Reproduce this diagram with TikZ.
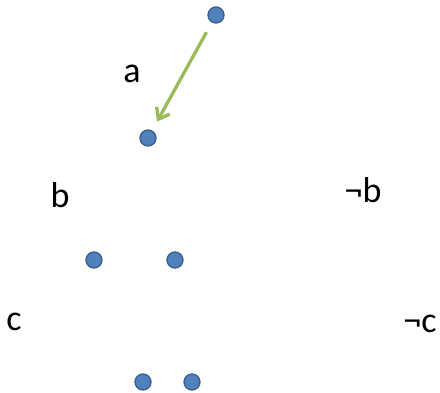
\documentclass[tikz,border=0pt]{standalone}
\usepackage{fontspec}
\setmainfont{Carlito}
\usepackage{tikz}
\usetikzlibrary{arrows.meta, positioning}
\usepackage{xcolor}
\definecolor{dotBlue}{HTML}{4F81BD}
\definecolor{dotEdge}{HTML}{385D8A}
\definecolor{arrowGreen}{HTML}{9BBB59}

\begin{document}
\begin{tikzpicture}[
    x=1pt, y=-1pt,
    dot/.style={circle, fill=dotBlue, draw=dotEdge, line width=1.3pt, minimum size=16pt, inner sep=0pt},
    lbl/.style={font=\fontsize{36}{40}\selectfont, inner sep=0pt},
    arrow/.style={-{Straight Barb[length=10pt, width=15pt]}, line width=3.3pt, color=arrowGreen, shorten <=11pt, shorten >=10pt}
]
    \useasboundingbox (0,0) rectangle (440,393);

    % Dots
    \node[dot] (top) at (216,15) {};
    \node[dot] (mid) at (148,138) {};
    \node[dot] (left) at (94,260) {};
    \node[dot] (right) at (175,260) {};
    \node[dot] (botL) at (143,382) {};
    \node[dot] (botR) at (192,382) {};

    % Arrow
    \draw[arrow] (top) -- (mid);

    % Labels
    \node[lbl] (la) at (132,74) {a};
    \node[lbl] (lb) at (60,195) {b};
    \node[lbl] (lnb) at (363,190) {¬b};
    \node[lbl] (lc) at (14,322) {c};
    \node[lbl] (lnc) at (420,324) {¬c};
\end{tikzpicture}
\end{document}
